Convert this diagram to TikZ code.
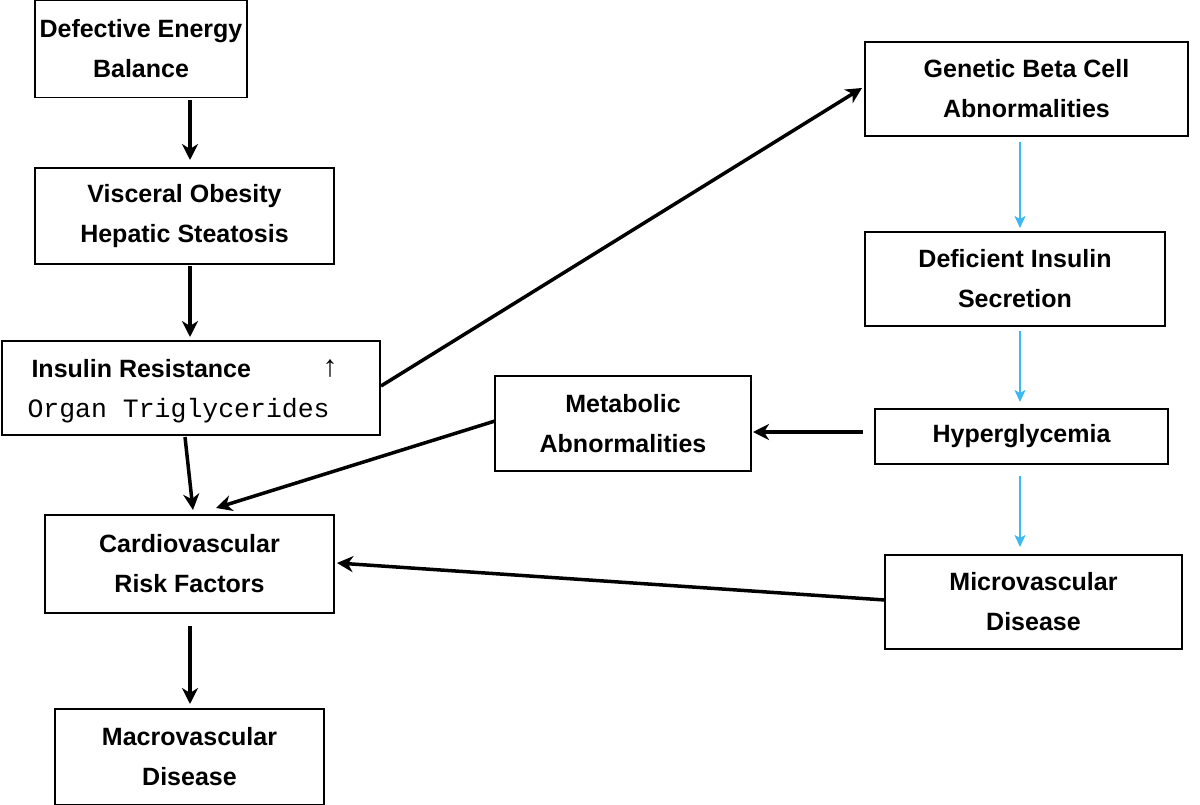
\documentclass[tikz,border=0pt]{standalone}
\usepackage{fontspec}
\setmainfont{Liberation Sans}
\newfontfamily\monof{Liberation Mono}
\usetikzlibrary{arrows.meta}
\begin{document}
\begin{tikzpicture}[x=1pt,y=-1pt,
 box/.style={draw,line width=1.3pt,inner sep=0pt,font=\bfseries\fontsize{25}{40}\selectfont,align=center},
 blk/.style={line width=3.5pt,-{Stealth[length=16pt,width=16pt,inset=5pt]}},
 blu/.style={line width=1.6pt,color={rgb,255:red,60;green,185;blue,240},-{Stealth[length=12pt,width=11pt,inset=3pt]}}]
\useasboundingbox (0,0) rectangle (1200,805);
\node[box,minimum width=212pt,minimum height=97pt] (a) at (141,49) {Defective Energy\\Balance};
\node[box,minimum width=299pt,minimum height=96pt] (b) at (184.5,216) {Visceral Obesity\\Hepatic Steatosis};
\node[box,minimum width=378pt,minimum height=94pt] (c) at (191,388) {};
\node[font=\bfseries\fontsize{25}{30}\selectfont,anchor=west] (c1) at (28,369) {Insulin Resistance};
\node[font=\bfseries\fontsize{30}{30}\selectfont] (c2) at (330,369) {↑};
\node[font=\monof\fontsize{26.5}{30}\selectfont,anchor=west] (c3) at (24,411) {Organ Triglycerides};
\node[box,minimum width=289pt,minimum height=98pt] (d) at (189.5,564) {Cardiovascular\\Risk Factors};
\node[box,minimum width=269pt,minimum height=96pt] (e) at (189.5,757) {Macrovascular\\Disease};
\node[box,minimum width=323pt,minimum height=94pt] (f) at (1026.5,89) {Genetic Beta Cell\\Abnormalities};
\node[box,minimum width=300pt,minimum height=94pt] (g) at (1015,279) {Deficient Insulin\\Secretion};
\node[box,minimum width=293pt,minimum height=55pt] (h) at (1021.5,436.5) {Hyperglycemia};
\node[box,minimum width=256pt,minimum height=95pt] (m) at (623,423.5) {Metabolic\\Abnormalities};
\node[box,minimum width=297pt,minimum height=94pt] (k) at (1033.5,602) {Microvascular\\Disease};
\coordinate (a1) at (190,100); \coordinate (b0) at (190,160);
\draw[blk] (a1) -- (b0);
\coordinate (b1) at (190,266); \coordinate (c0) at (190,337);
\draw[blk] (b1) -- (c0);
\coordinate (cb) at (185,437); \coordinate (d0) at (193,510);
\draw[blk] (cb) -- (d0);
\coordinate (m0) at (495,421); \coordinate (d1) at (216,508);
\draw[blk] (m0) -- (d1);
\coordinate (cr) at (381,386); \coordinate (f0) at (862,88);
\draw[blk] (cr) -- (f0);
\coordinate (h0) at (863,432); \coordinate (m1) at (753,432);
\draw[blk] (h0) -- (m1);
\coordinate (k0) at (885,600); \coordinate (d2) at (337,563);
\draw[blk] (k0) -- (d2);
\coordinate (d3) at (190,626); \coordinate (e0) at (190,704);
\draw[blk] (d3) -- (e0);
\coordinate (f1) at (1020,142); \coordinate (g0) at (1020,228);
\draw[blu] (f1) -- (g0);
\coordinate (g1) at (1020,331); \coordinate (h1) at (1020,402);
\draw[blu] (g1) -- (h1);
\coordinate (h2) at (1020,476); \coordinate (k1) at (1020,547);
\draw[blu] (h2) -- (k1);
\end{tikzpicture}
\end{document}
